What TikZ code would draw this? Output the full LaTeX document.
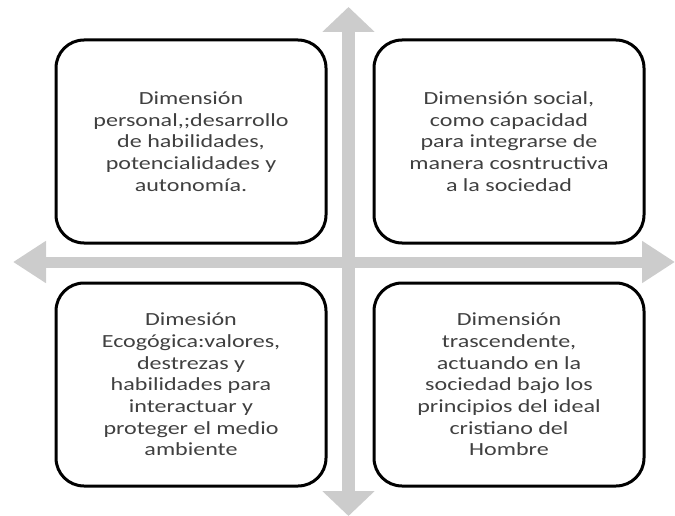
\documentclass[tikz,border=0pt]{standalone}
\usepackage{fontspec}
\setmainfont[FakeStretch=1.3]{Carlito}
\usetikzlibrary{arrows.meta,positioning}
\definecolor{axisgray}{RGB}{204,204,204}
\definecolor{textgray}{RGB}{64,64,64}
\tikzset{
  dimbox/.style={draw=black, line width=3pt, rounded corners=28pt,
    minimum width=270pt, minimum height=203pt, inner sep=0pt,
    align=center, text=textgray, font=\fontsize{18.5}{21.7}\selectfont},
  crossarrow/.style={draw=axisgray, fill=axisgray}
}
\begin{document}
\begin{tikzpicture}[x=1pt,y=-1pt]
  \useasboundingbox (0,0) rectangle (675,516); %page size

  %Cross of arrows
  \coordinate (north) at (348.5,7);
  \coordinate (south) at (348.5,516);
  \coordinate (west) at (13,262);
  \coordinate (east) at (675,262);
  \draw[crossarrow, line width=13pt,
    {Triangle[length=25pt,width=51pt]}-{Triangle[length=25pt,width=51pt]}] (south) -- (north);
  \draw[crossarrow, line width=11pt,
    {Triangle[length=33pt,width=40pt]}-{Triangle[length=33pt,width=40pt]}] (west) -- (east);

  %The four dimensions
  \node[dimbox] (personal) at (191,141.5)
    {Dimensión\\personal,;desarrollo\\de habilidades,\\potencialidades y\\autonomía.};
  \node[dimbox, right=45pt of personal] (social)
    {Dimensión social,\\como capacidad\\para integrarse de\\manera cosntructiva\\a la sociedad};
  \node[dimbox, below=37pt of personal] (ecologica)
    {Dimesión\\Ecogógica:valores,\\destrezas y\\habilidades para\\interactuar y\\proteger el medio\\ambiente};
  \node[dimbox, below=37pt of social] (trascendente)
    {Dimensión\\trascendente,\\actuando en la\\sociedad bajo los\\principios del ideal\\cristiano del\\Hombre};
\end{tikzpicture}
\end{document}
